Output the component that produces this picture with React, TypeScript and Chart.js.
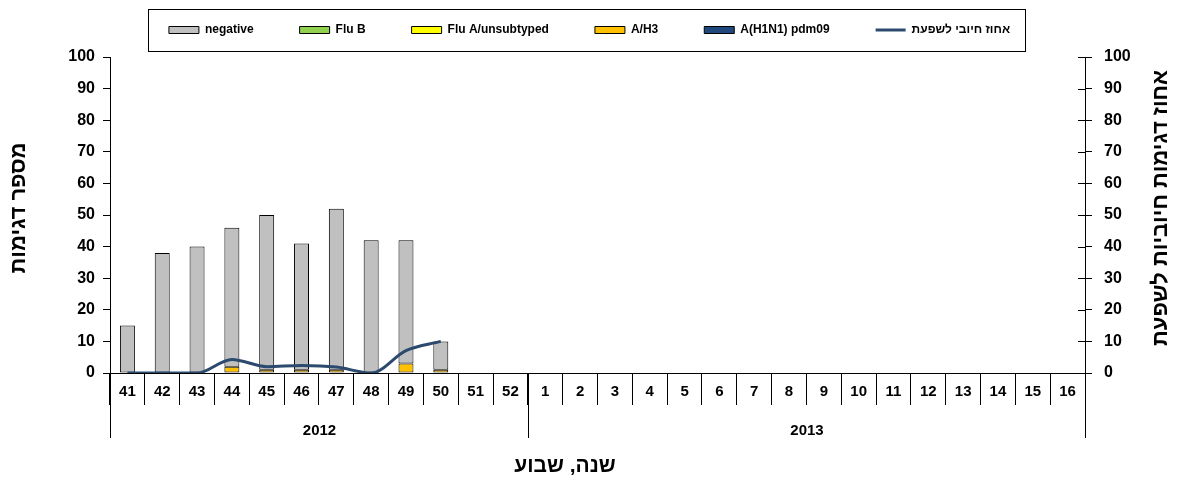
import { useEffect, useRef } from 'react';
import { Chart, registerables } from 'chart.js';

Chart.register(...registerables);

const weekLabels = ['41', '42', '43', '44', '45', '46', '47', '48', '49', '50', '51', '52', '1', '2', '3', '4', '5', '6', '7', '8', '9', '10', '11', '12', '13', '14', '15', '16'];
const yearLabels = ['2012', '2013'];
const weeksPerYear = [12, 16];

const negativeCounts = [15, 38, 40, 44, 49, 40, 51, 42, 39, 9];
const fluBCounts = [0, 0, 0, 0, 0, 0, 0, 0, 0, 0];
const fluAUnsubtypedCounts = [0, 0, 0, 0, 0, 0, 0, 0, 0, 0];
const h3Counts = [0, 0, 0, 2, 1, 1, 1, 0, 3, 1];
const h1n1Counts = [0, 0, 0, 0, 0, 0, 0, 0, 0, 0];
const percentPositive = [0, 0, 0, 4.3, 2.0, 2.4, 1.9, 0, 7.1, 10.0];

const seriesNames = ['negative', 'Flu B', 'Flu A/unsubtyped', 'A/H3', 'A(H1N1) pdm09', 'אחוז חיובי לשפעת'];
const leftTitle = 'מספר דגימות';
const rightTitle = 'אחוז דגימות חיוביות לשפעת';
const xTitle = 'שנה, שבוע';

const FONT = "'Liberation Sans', Arial, sans-serif";

const nz = (arr: number[]) => arr.map((v) => (v === 0 ? null : v));

const decorPlugin = {
  id: 'decor',
  beforeLayout(chart: any) {
    const lg = chart.legend;
    if (lg && !lg.__patched) {
      const orig = lg.fit;
      lg.fit = function () {
        orig.call(this);
        this.height += 11;
      };
      lg.__patched = true;
    }
  },
  afterDraw(chart: any) {
    const { ctx, chartArea, scales } = chart;
    const xs = scales.x;
    const y1 = scales.y1;
    ctx.save();
    ctx.strokeStyle = '#000';
    ctx.lineWidth = 1;

    // legend frame
    const hb = chart.legend && chart.legend.legendHitBoxes;
    if (hb && hb.length) {
      const first = hb[0];
      const last = hb[hb.length - 1];
      const cy = first.top + first.height / 2;
      const l = Math.round(first.left - 21) + 0.5;
      const r = Math.round(last.left + last.width + 15) + 0.5;
      const t = Math.round(cy - 21) + 0.5;
      ctx.strokeRect(l, t, r - l, 42);
    }

    // year row
    const step = xs.getPixelForValue(1) - xs.getPixelForValue(0);
    let start = 0;
    ctx.fillStyle = '#000';
    ctx.font = `bold 15px ${FONT}`;
    ctx.textAlign = 'center';
    ctx.textBaseline = 'middle';
    yearLabels.forEach((yl, i) => {
      const n = weeksPerYear[i];
      const x0 = Math.round(xs.getPixelForValue(start) - step / 2) + 0.5;
      const x1 = Math.round(xs.getPixelForValue(start + n - 1) + step / 2) + 0.5;
      ctx.beginPath();
      ctx.moveTo(x0, chartArea.bottom);
      ctx.lineTo(x0, chartArea.bottom + 65);
      ctx.moveTo(x1, chartArea.bottom);
      ctx.lineTo(x1, chartArea.bottom + 65);
      ctx.stroke();
      ctx.fillText(yl, (x0 + x1) / 2, chartArea.bottom + 58);
      start += n;
    });

    // inner half of right axis ticks
    ctx.beginPath();
    y1.ticks.forEach((_t: any, i: number) => {
      const py = Math.round(y1.getPixelForTick(i)) + 0.5;
      ctx.moveTo(chartArea.right - 7, py);
      ctx.lineTo(chartArea.right, py);
    });
    ctx.stroke();

    // axis titles
    const midY = (chartArea.top + chartArea.bottom) / 2 - 7;
    ctx.font = `bold 21px ${FONT}`;
    ctx.fillText(xTitle, 565, 466);

    ctx.font = `bold 22px ${FONT}`;
    ctx.save();
    ctx.translate(19, midY);
    ctx.rotate(-Math.PI / 2);
    ctx.fillText(leftTitle, 0, 0);
    ctx.restore();

    ctx.save();
    ctx.translate(1161, midY);
    ctx.rotate(-Math.PI / 2);
    ctx.fillText(rightTitle, 0, 0);
    ctx.restore();

    ctx.restore();
  },
};

export default function App() {
  const canvasRef = useRef<HTMLCanvasElement | null>(null);

  useEffect(() => {
    if (!canvasRef.current) return;
    Chart.defaults.font.family = FONT;
    Chart.defaults.font.weight = 'bold';
    Chart.defaults.color = '#000';

    const barCommon = {
      type: 'bar' as const,
      yAxisID: 'y',
      borderColor: '#000',
      borderWidth: 1,
      borderSkipped: false,
      categoryPercentage: 1,
      barPercentage: 0.43,
    };

    const chart = new Chart(canvasRef.current, {
      data: {
        labels: weekLabels,
        datasets: [
          { ...barCommon, label: seriesNames[0], data: negativeCounts, backgroundColor: '#C0C0C0', order: 5 },
          { ...barCommon, label: seriesNames[1], data: nz(fluBCounts), backgroundColor: '#92D050', order: 4 },
          { ...barCommon, label: seriesNames[2], data: nz(fluAUnsubtypedCounts), backgroundColor: '#FFFF00', order: 3 },
          { ...barCommon, label: seriesNames[3], data: nz(h3Counts), backgroundColor: '#FFC000', order: 1 },
          { ...barCommon, label: seriesNames[4], data: nz(h1n1Counts), backgroundColor: '#1F497D', order: 2 },
          {
            type: 'line' as const,
            label: seriesNames[5],
            data: percentPositive,
            yAxisID: 'y1',
            borderColor: '#2C4A6E',
            backgroundColor: '#2C4A6E',
            borderWidth: 3,
            pointRadius: 0,
            cubicInterpolationMode: 'monotone',
            order: 0,
          },
        ],
      } as any,
      options: {
        animation: false,
        responsive: true,
        maintainAspectRatio: false,
        layout: { padding: { top: -22, left: 0, right: 0, bottom: 0 } },
        plugins: {
          tooltip: { enabled: false },
          legend: {
            position: 'top',
            labels: {
              font: { size: 12, weight: 'bold', family: FONT },
              color: '#000',
              usePointStyle: true,
              pointStyleWidth: 30,
              boxHeight: 7,
              padding: 46,
              generateLabels: (chart: any) => {
                const items = Chart.defaults.plugins.legend.labels.generateLabels(chart);
                return items.map((it: any) => ({
                  ...it,
                  pointStyle: it.datasetIndex === 5 ? 'line' : 'rect',
                  strokeStyle: it.datasetIndex === 5 ? '#2C4A6E' : '#000',
                  lineWidth: it.datasetIndex === 5 ? 3 : 1,
                }));
              },
              sort: (a: any, b: any) => a.datasetIndex - b.datasetIndex,
            },
          },
        },
        scales: {
          x: {
            stacked: true,
            offset: true,
            grid: { offset: true, drawOnChartArea: false, tickLength: 32, color: '#000', lineWidth: 1 },
            border: { display: true, color: '#000', width: 1 },
            ticks: { autoSkip: false, maxRotation: 0, padding: -22, font: { size: 15, weight: 'bold' }, color: '#000' },
            afterFit: (s: any) => {
              s.height = 106;
            },
          },
          y: {
            stacked: true,
            position: 'left',
            min: 0,
            max: 100,
            ticks: { stepSize: 10, padding: 8, font: { size: 16, weight: 'bold' }, color: '#000' },
            grid: { drawOnChartArea: false, tickLength: 7, color: '#000' },
            border: { display: true, color: '#000', width: 1 },
            afterFit: (s: any) => {
              s.width = 110;
            },
          },
          y1: {
            position: 'right',
            min: 0,
            max: 100,
            ticks: { stepSize: 10, padding: 12, font: { size: 16, weight: 'bold' }, color: '#000' },
            grid: { drawOnChartArea: false, tickLength: 7, color: '#000' },
            border: { display: true, color: '#000', width: 1 },
            afterFit: (s: any) => {
              s.width = 94;
            },
          },
        },
      } as any,
      plugins: [decorPlugin],
    });
    return () => chart.destroy();
  }, []);

  return (
    <div style={{ position: 'fixed', left: 0, top: 0, width: 1179, height: 479, background: '#fff' }}>
      <canvas ref={canvasRef} />
    </div>
  );
}
